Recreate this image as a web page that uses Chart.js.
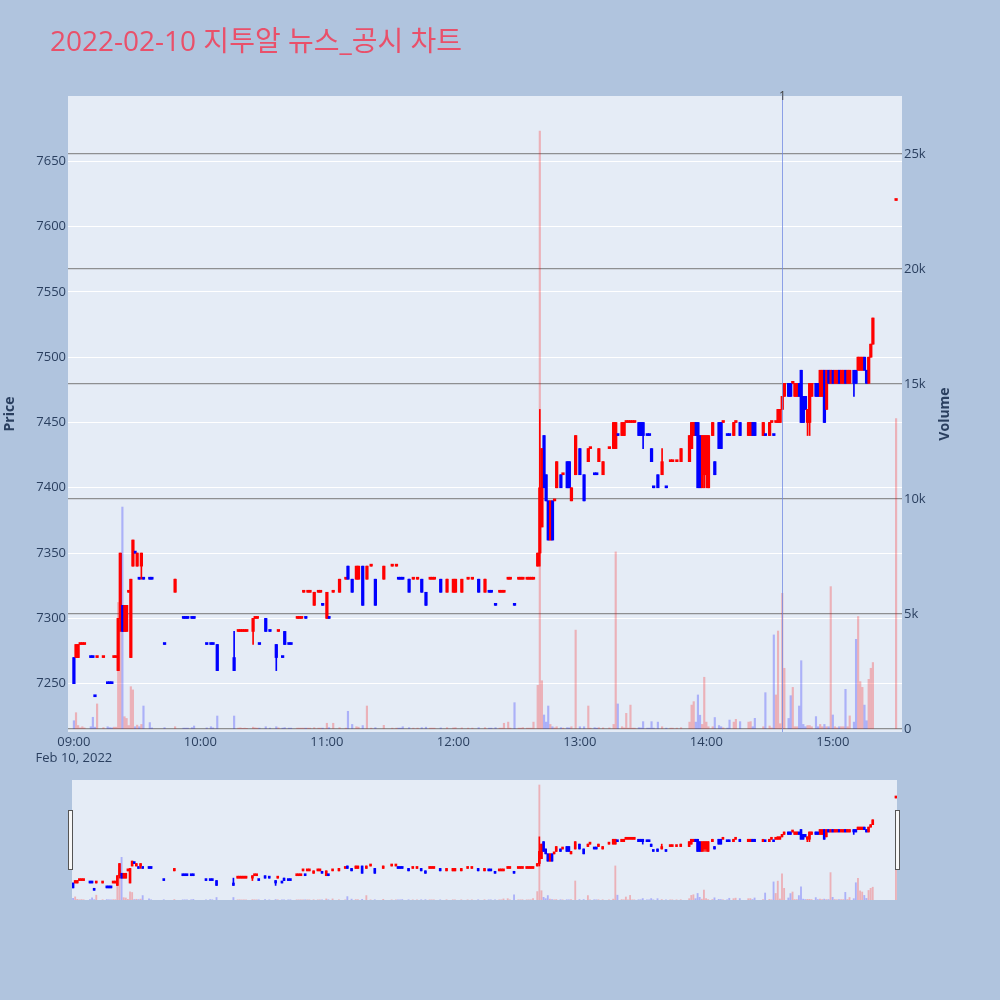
<!DOCTYPE html>
<html>
<head>
<meta charset="utf-8">
<title>2022-02-10 지투알 뉴스_공시 차트</title>
<script src="https://cdn.jsdelivr.net/npm/chart.js@4.4.1/dist/chart.umd.min.js"></script>
<style>
  html, body { margin: 0; padding: 0; background: #b0c4de; }
  #wrap { position: relative; width: 1000px; height: 1000px; }
  #main { position: absolute; left: 0; top: 0; }
  #slider { position: absolute; left: 60px; top: 775px; }
</style>
</head>
<body>
<div id="wrap">
  <canvas id="main" width="1000" height="775"></canvas>
  <canvas id="slider" width="850" height="130"></canvas>
</div>
<script>
// 1-minute candles (time of day)
const times = [
  '09:00','09:01','09:02','09:03','09:04','09:05','09:08','09:09','09:10','09:11',
  '09:14','09:16','09:17','09:18','09:19','09:20','09:21','09:22','09:23','09:24',
  '09:25','09:26','09:27','09:28','09:29','09:30','09:31','09:32','09:33','09:36',
  '09:37','09:43','09:48','09:52','09:53','09:54','09:56','09:57','10:03','10:05',
  '10:06','10:08','10:16','10:18','10:19','10:20','10:21','10:22','10:25','10:26',
  '10:27','10:28','10:31','10:33','10:36','10:37','10:39','10:40','10:42','10:43',
  '10:46','10:47','10:48','10:49','10:50','10:51','10:52','10:54','10:56','10:57',
  '10:58','11:00','11:01','11:03','11:06','11:09','11:10','11:12','11:14','11:15',
  '11:17','11:19','11:21','11:23','11:27','11:31','11:33','11:34','11:35','11:36',
  '11:39','11:41','11:43','11:45','11:47','11:49','11:50','11:51','11:54','11:57',
  '12:00','12:01','12:04','12:07','12:09','12:12','12:15','12:17','12:18','12:20',
  '12:22','12:23','12:24','12:26','12:27','12:29','12:31','12:32','12:33','12:35',
  '12:36','12:37','12:38','12:40','12:41','12:42','12:43','12:44','12:45','12:46',
  '12:47','12:48','12:49','12:51','12:52','12:54','12:55','12:56','12:58','13:00',
  '13:02','13:04','13:05','13:07','13:08','13:09','13:11','13:14','13:16','13:17',
  '13:18','13:20','13:21','13:22','13:23','13:24','13:25','13:26','13:28','13:29',
  '13:30','13:32','13:33','13:34','13:35','13:37','13:39','13:41','13:43','13:44',
  '13:46','13:48','13:52','13:53','13:54','13:55','13:56','13:57','13:58','13:59',
  '14:00','14:01','14:03','14:04','14:06','14:07','14:08','14:10','14:11','14:13',
  '14:14','14:16','14:20','14:21','14:22','14:23','14:27','14:28','14:30','14:31',
  '14:32','14:33','14:34','14:35','14:36','14:37','14:39','14:40','14:41','14:42',
  '14:43','14:44','14:45','14:46','14:47','14:48','14:49','14:50','14:52','14:53',
  '14:54','14:55','14:56','14:57','14:58','14:59','15:00','15:01','15:02','15:03',
  '15:04','15:05','15:06','15:07','15:08','15:10','15:11','15:12','15:13','15:14',
  '15:15','15:16','15:17','15:18','15:19','15:30'
];
const opens = [
  7270,7270,7270,7280,7280,7280,7270,7270,7240,7270,
  7270,7250,7250,7250,7270,7270,7260,7300,7310,7290,
  7290,7320,7270,7340,7350,7340,7330,7340,7330,7330,
  7330,7280,7320,7300,7300,7300,7300,7300,7280,7280,
  7280,7280,7270,7290,7290,7290,7290,7290,7290,7300,
  7300,7280,7300,7290,7280,7290,7270,7290,7280,7280,
  7300,7300,7300,7320,7300,7320,7320,7310,7320,7320,
  7310,7300,7300,7320,7320,7330,7340,7330,7330,7330,
  7340,7330,7340,7330,7330,7340,7340,7330,7330,7330,
  7330,7330,7330,7330,7320,7330,7330,7330,7330,7320,
  7320,7320,7320,7330,7330,7330,7320,7320,7320,7310,
  7320,7320,7320,7330,7330,7310,7330,7330,7330,7330,
  7330,7330,7330,7340,7350,7370,7440,7410,7390,7360,
  7390,7390,7400,7410,7410,7420,7420,7390,7410,7430,
  7410,7420,7430,7410,7410,7420,7410,7430,7430,7430,
  7440,7440,7440,7450,7450,7450,7450,7450,7450,7450,
  7450,7440,7440,7430,7400,7410,7410,7400,7420,7420,
  7420,7420,7420,7430,7440,7450,7450,7440,7400,7410,
  7410,7400,7440,7420,7450,7450,7450,7440,7440,7440,
  7450,7450,7440,7440,7450,7450,7440,7440,7440,7450,
  7440,7450,7450,7450,7460,7470,7480,7480,7480,7470,
  7470,7480,7490,7470,7470,7450,7450,7470,7480,7480,
  7470,7470,7490,7460,7490,7480,7490,7480,7480,7490,
  7480,7480,7490,7480,7480,7490,7490,7490,7490,7490,
  7500,7490,7480,7500,7510,7620
];
const highs = [
  7270,7280,7280,7280,7280,7280,7270,7270,7240,7270,
  7270,7250,7250,7250,7270,7270,7300,7350,7310,7310,
  7310,7320,7330,7360,7350,7350,7330,7350,7330,7330,
  7330,7280,7330,7300,7300,7300,7300,7300,7280,7280,
  7280,7280,7290,7290,7290,7290,7290,7290,7300,7300,
  7300,7280,7300,7290,7280,7290,7270,7290,7280,7280,
  7300,7300,7300,7320,7300,7320,7320,7320,7320,7320,
  7310,7320,7300,7320,7330,7330,7340,7330,7340,7340,
  7340,7340,7340,7330,7340,7340,7340,7330,7330,7330,
  7330,7330,7330,7330,7320,7330,7330,7330,7330,7330,
  7330,7330,7330,7330,7330,7330,7330,7320,7320,7310,
  7320,7320,7320,7330,7330,7310,7330,7330,7330,7330,
  7330,7330,7330,7350,7460,7430,7440,7410,7390,7390,
  7390,7390,7420,7410,7410,7420,7420,7400,7440,7430,
  7410,7430,7430,7410,7410,7430,7420,7430,7450,7450,
  7440,7450,7450,7450,7450,7450,7450,7450,7450,7450,
  7450,7440,7440,7430,7400,7410,7430,7400,7420,7420,
  7420,7430,7440,7450,7450,7450,7450,7440,7440,7440,
  7440,7440,7450,7420,7450,7450,7450,7440,7440,7450,
  7450,7450,7450,7450,7450,7450,7450,7440,7450,7450,
  7440,7450,7460,7460,7470,7480,7480,7480,7480,7480,
  7480,7480,7490,7470,7470,7460,7480,7480,7480,7480,
  7490,7490,7490,7490,7490,7490,7490,7490,7490,7490,
  7490,7490,7490,7490,7490,7490,7490,7500,7500,7500,
  7500,7490,7500,7510,7530,7620
];
const lows = [
  7250,7270,7270,7280,7280,7280,7270,7270,7240,7270,
  7270,7250,7250,7250,7270,7270,7260,7290,7290,7290,
  7290,7320,7270,7340,7350,7340,7330,7330,7330,7330,
  7330,7280,7320,7300,7300,7300,7300,7300,7280,7280,
  7280,7260,7260,7290,7290,7290,7290,7290,7280,7300,
  7300,7280,7290,7290,7260,7290,7270,7280,7280,7280,
  7300,7300,7300,7320,7300,7320,7320,7310,7320,7320,
  7310,7300,7300,7320,7320,7330,7330,7320,7330,7330,
  7310,7330,7340,7310,7330,7340,7340,7330,7330,7330,
  7320,7330,7330,7320,7310,7330,7330,7330,7320,7320,
  7320,7320,7320,7330,7330,7320,7320,7320,7320,7310,
  7320,7320,7320,7330,7330,7310,7330,7330,7330,7330,
  7330,7330,7330,7340,7340,7370,7400,7390,7360,7360,
  7360,7390,7400,7400,7410,7400,7400,7390,7410,7410,
  7390,7420,7430,7410,7410,7420,7410,7430,7430,7430,
  7440,7440,7440,7450,7450,7450,7450,7450,7440,7440,
  7430,7440,7440,7420,7400,7400,7410,7400,7420,7420,
  7420,7420,7420,7430,7440,7440,7400,7400,7400,7400,
  7400,7400,7440,7410,7430,7430,7450,7440,7440,7440,
  7450,7440,7440,7440,7440,7440,7440,7440,7440,7450,
  7440,7450,7450,7450,7460,7470,7470,7470,7480,7470,
  7470,7470,7450,7450,7460,7440,7440,7470,7470,7470,
  7470,7470,7450,7460,7480,7480,7480,7480,7480,7480,
  7480,7480,7480,7480,7480,7470,7480,7490,7490,7490,
  7490,7480,7480,7500,7510,7620
];
const closes = [
  7250,7280,7280,7280,7280,7280,7270,7270,7240,7270,
  7270,7250,7250,7250,7270,7270,7300,7350,7290,7310,
  7310,7320,7330,7360,7350,7350,7330,7350,7330,7330,
  7330,7280,7330,7300,7300,7300,7300,7300,7280,7280,
  7280,7260,7260,7290,7290,7290,7290,7290,7300,7300,
  7300,7280,7290,7290,7270,7290,7270,7280,7280,7280,
  7300,7300,7300,7320,7300,7320,7320,7320,7320,7320,
  7310,7320,7300,7320,7330,7330,7330,7320,7340,7340,
  7310,7340,7340,7310,7340,7340,7340,7330,7330,7330,
  7320,7330,7330,7320,7310,7330,7330,7330,7320,7330,
  7330,7330,7330,7330,7330,7320,7330,7320,7320,7310,
  7320,7320,7320,7330,7330,7310,7330,7330,7330,7330,
  7330,7330,7330,7350,7400,7430,7400,7390,7360,7390,
  7360,7390,7420,7400,7410,7400,7400,7400,7440,7410,
  7390,7430,7430,7410,7410,7430,7420,7430,7450,7450,
  7440,7450,7450,7450,7450,7450,7450,7450,7440,7440,
  7440,7440,7440,7420,7400,7400,7420,7400,7420,7420,
  7420,7430,7440,7450,7450,7440,7400,7400,7440,7440,
  7440,7440,7450,7410,7430,7430,7450,7440,7440,7450,
  7450,7440,7450,7450,7440,7440,7450,7440,7450,7450,
  7440,7450,7460,7460,7470,7480,7470,7470,7480,7480,
  7480,7470,7450,7450,7460,7460,7480,7480,7470,7470,
  7490,7490,7450,7490,7480,7490,7480,7490,7490,7480,
  7490,7490,7480,7490,7490,7480,7480,7500,7500,7500,
  7490,7480,7500,7510,7530,7620
];
const volumes = [
  360,710,150,50,100,50,100,510,80,1090,
  60,100,60,50,80,80,5500,7000,9650,535,
  460,150,1840,1700,100,170,100,200,1000,280,
  50,60,100,40,40,40,60,130,50,100,
  50,565,565,40,50,30,40,30,80,50,
  40,40,100,40,100,50,40,60,40,40,
  40,40,40,40,40,40,40,60,40,40,
  40,250,60,250,60,40,770,200,100,80,
  150,1000,40,60,160,40,40,40,40,100,
  60,40,40,60,80,40,40,40,50,60,
  50,60,50,40,40,60,60,40,40,60,
  40,40,250,300,40,1145,40,40,60,40,
  40,40,300,1900,26000,2100,610,300,1000,200,
  100,50,100,60,40,60,50,100,4300,100,
  100,1000,40,60,40,60,50,50,200,7700,
  1090,100,50,680,40,1040,40,40,60,50,
  320,40,40,320,40,300,100,40,40,40,
  40,60,300,1040,1190,300,1480,600,200,2250,
  300,100,100,500,150,100,50,40,390,300,
  420,320,300,320,100,465,100,1580,130,50,
  4090,1480,4260,230,5900,2640,460,1450,1810,100,
  100,1000,2970,200,100,150,150,100,540,100,
  200,100,200,100,100,6190,610,100,50,100,
  100,100,1725,100,570,300,3900,4890,2060,1810,
  1040,360,2160,2640,2890,13500
];

const priceTicks = [7250, 7300, 7350, 7400, 7450, 7500, 7550, 7600, 7650];
const volumeTicks = [0, 5000, 10000, 15000, 20000, 25000];
const hourTicks = ['09:00', '10:00', '11:00', '12:00', '13:00', '14:00', '15:00'];
const dateLabel = 'Feb 10, 2022';
const newsTimes = ['14:36'];
const newsLabels = ['1'];
const chartTitle = '2022-02-10 지투알 뉴스_공시 차트';

const toMinutes = t => { const [h, m] = t.split(':').map(Number); return (h - 9) * 60 + m; };
const xs = times.map(toMinutes);

// same rule as plotly: a flat candle follows the previous close
const rising = [];
let lastUp = true, lastClose = null;
closes.forEach((c, i) => {
  const o = opens[i];
  if (o !== c) lastUp = c > o;
  else if (lastClose !== null && c !== lastClose) lastUp = c > lastClose;
  rising.push(lastUp);
  lastClose = c;
});
const candleColors = rising.map(u => u ? '#ff0000' : '#0000ff');
const volColors = rising.map(u => u ? 'rgba(255,0,0,0.25)' : 'rgba(0,0,255,0.25)');

function makeDatasets(bodyW, wickW, volW) {
  return [
    { label: 'Volume', yAxisID: 'y1', order: 0, grouped: false,
      data: xs.map((x, i) => ({ x, y: volumes[i] })),
      backgroundColor: volColors, barThickness: volW },
    { label: 'wick', yAxisID: 'y', order: 1, grouped: false,
      data: xs.map((x, i) => ({ x, y: [lows[i], highs[i]] })),
      backgroundColor: candleColors, barThickness: wickW },
    { label: 'body', yAxisID: 'y', order: 2, grouped: false,
      data: xs.map((x, i) => ({ x, y: [opens[i], closes[i]] })),
      backgroundColor: candleColors, barThickness: bodyW, minBarLength: 2 }
  ];
}

Chart.defaults.font.family = '"Open Sans", "Noto Sans CJK KR", sans-serif';
Chart.defaults.color = '#2a3f5f';

const plotBg = {
  id: 'plotBg',
  beforeDraw(chart) {
    const { ctx, chartArea: a } = chart;
    ctx.save();
    ctx.fillStyle = '#e5ecf6';
    ctx.fillRect(a.left, a.top, a.width, a.height);
    ctx.restore();
  }
};

const decorations = {
  id: 'decorations',
  afterDatasetsDraw(chart) {
    const { ctx, chartArea: a, scales: { x } } = chart;
    ctx.save();
    newsTimes.forEach((t, i) => {
      const px = Math.round(x.getPixelForValue(toMinutes(t))) + 0.5;
      ctx.strokeStyle = 'rgba(110,135,225,0.75)';
      ctx.lineWidth = 1;
      ctx.beginPath();
      ctx.moveTo(px, a.top);
      ctx.lineTo(px, a.bottom);
      ctx.stroke();
      ctx.fillStyle = '#444';
      ctx.font = '12px "Open Sans"';
      ctx.textAlign = 'center';
      ctx.textBaseline = 'middle';
      ctx.fillText(newsLabels[i], px, a.top + 1);
    });
    ctx.restore();
  },
  afterDraw(chart) {
    const ctx = chart.ctx;
    ctx.save();
    ctx.fillStyle = '#e9506a';
    ctx.font = '28px "Open Sans", "Noto Sans CJK KR"';
    ctx.textAlign = 'left';
    ctx.textBaseline = 'alphabetic';
    ctx.fillText(chartTitle, 50, 51);

    ctx.fillStyle = '#2a3f5f';
    ctx.font = 'bold 14px "Open Sans"';
    ctx.textAlign = 'center';
    ctx.textBaseline = 'middle';
    [['Price', 10], ['Volume', 945]].forEach(([txt, cx]) => {
      ctx.save();
      ctx.translate(cx, 414);
      ctx.rotate(-Math.PI / 2);
      ctx.fillText(txt, 0, 0);
      ctx.restore();
    });
    ctx.restore();
  }
};

const sliderHandles = {
  id: 'sliderHandles',
  afterDraw(chart) {
    const { ctx, chartArea: a } = chart;
    ctx.save();
    ctx.fillStyle = '#f8f8f8';
    ctx.strokeStyle = '#555';
    ctx.lineWidth = 1;
    [a.left - 4, a.right - 2].forEach(hx => {
      ctx.fillRect(hx, a.top + 30, 5, 60);
      ctx.strokeRect(hx + 0.5, a.top + 30.5, 4, 59);
    });
    ctx.restore();
  }
};

new Chart(document.getElementById('main'), {
  type: 'bar',
  data: { datasets: makeDatasets(2.6, 1, 1.5) },
  options: {
    responsive: false,
    animation: false,
    devicePixelRatio: 1,
    layout: { padding: { top: 96, left: 0, right: 0, bottom: 0 } },
    plugins: { legend: { display: false }, tooltip: { enabled: false } },
    scales: {
      x: {
        type: 'linear', offset: false, min: -2.8, max: 392.8,
        grid: { display: false, drawTicks: false, offset: false },
        border: { display: false },
        afterBuildTicks: s => { s.ticks = hourTicks.map(t => ({ value: toMinutes(t) })); },
        afterFit: s => { s.height = 43; },
        ticks: {
          autoSkip: false, maxRotation: 0, padding: 2,
          font: { size: 13, lineHeight: 1.25 },
          callback: (v, i) => i === 0 ? [hourTicks[0], dateLabel] : hourTicks[i]
        }
      },
      y: {
        position: 'left', min: 7213, max: 7700,
        grid: { color: '#ffffff', lineWidth: 1, drawTicks: false },
        border: { display: false },
        afterBuildTicks: s => { s.ticks = priceTicks.map(v => ({ value: v })); },
        afterFit: s => { s.width = 68; },
        ticks: { padding: 2, font: { size: 13 }, callback: v => String(v) }
      },
      y1: {
        position: 'right', min: -130, max: 27520,
        grid: { color: 'rgba(120,120,120,0.8)', lineWidth: 1.2, drawTicks: false },
        border: { display: false },
        afterBuildTicks: s => { s.ticks = volumeTicks.map(v => ({ value: v })); },
        afterFit: s => { s.width = 98; },
        ticks: { padding: 2, font: { size: 13 }, callback: v => v === 0 ? '0' : (v / 1000) + 'k' }
      }
    }
  },
  plugins: [plotBg, decorations]
});

new Chart(document.getElementById('slider'), {
  type: 'bar',
  data: { datasets: makeDatasets(2, 1, 1.2) },
  options: {
    responsive: false,
    animation: false,
    devicePixelRatio: 1,
    layout: { padding: { left: 12, right: 13, top: 5, bottom: 5 } },
    plugins: { legend: { display: false }, tooltip: { enabled: false } },
    scales: {
      x: { type: 'linear', display: false, offset: false, min: -0.5, max: 390.5 },
      y: { display: false, min: 7200, max: 7694 },
      y1: { display: false, min: 0, max: 27130 }
    }
  },
  plugins: [plotBg, sliderHandles]
});
</script>
</body>
</html>
